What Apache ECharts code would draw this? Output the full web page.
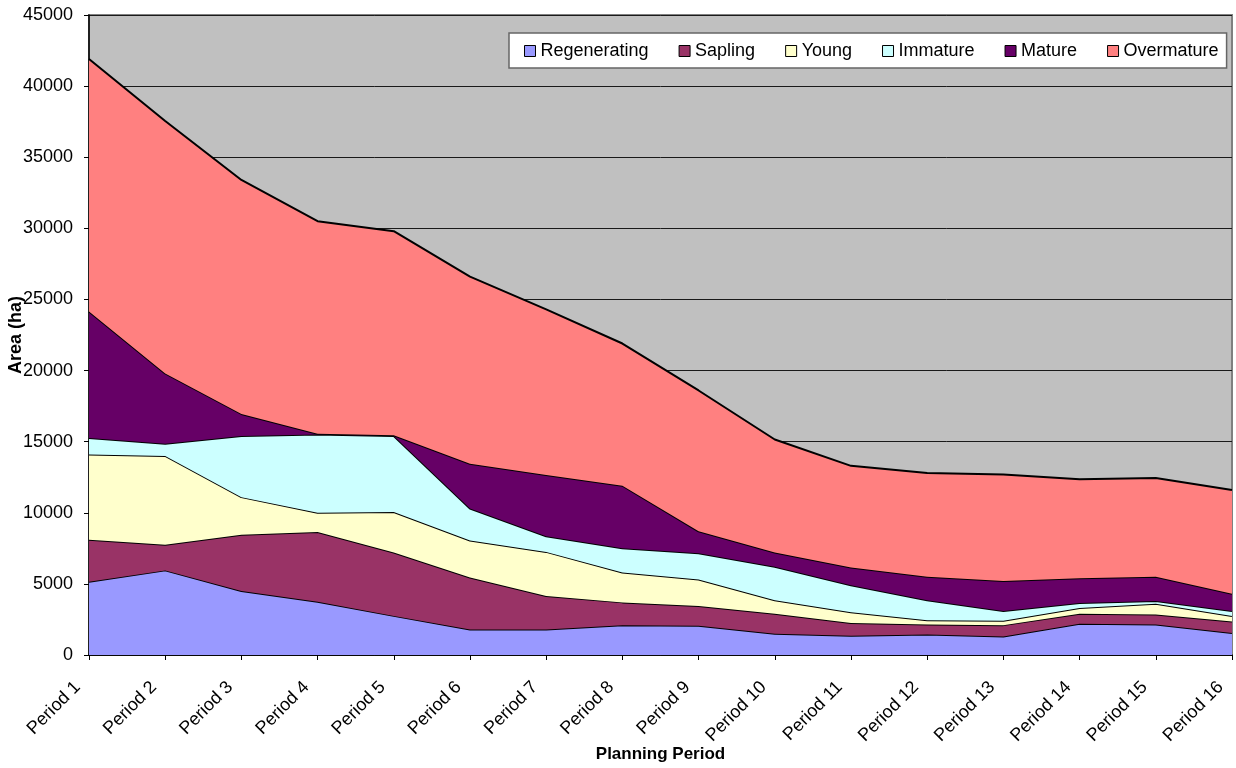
<!DOCTYPE html>
<html>
<head>
<meta charset="utf-8">
<script src="https://cdn.jsdelivr.net/npm/echarts@6/dist/echarts.min.js"></script>
<style>
html,body{margin:0;padding:0;background:#fff;}
#chart{width:1236px;height:768px;}
</style>
</head>
<body>
<div id="chart"></div>
<script>
const categories = ['Period 1','Period 2','Period 3','Period 4','Period 5','Period 6','Period 7','Period 8','Period 9','Period 10','Period 11','Period 12','Period 13','Period 14','Period 15','Period 16'];
const regenerating = [5150, 5950, 4500, 3750, 2750, 1800, 1800, 2100, 2050, 1500, 1350, 1450, 1300, 2200, 2150, 1550];
const sapling      = [2950, 1800, 3950, 4900, 4450, 3650, 2350, 1600, 1400, 1400, 900, 700, 800, 700, 700, 800];
const young        = [6000, 6250, 2650, 1350, 2850, 2600, 3100, 2100, 1850, 950, 750, 300, 300, 400, 750, 400];
const immature     = [1150, 850, 4300, 5500, 5350, 2250, 1100, 1700, 1850, 2350, 1900, 1400, 700, 350, 200, 350];
const mature       = [8900, 4950, 1550, 50, 50, 3150, 4300, 4400, 1550, 1000, 1250, 1650, 2100, 1750, 1700, 1200];
const overmature   = [17750, 17750, 16450, 14950, 14350, 13150, 11650, 10000, 9900, 7950, 7150, 7300, 7500, 6950, 6950, 7300];
const seriesNames  = ['Regenerating','Sapling','Young','Immature','Mature','Overmature'];
const seriesData   = [regenerating, sapling, young, immature, mature, overmature];
const colors       = ['#9999FF','#993366','#FFFFCC','#CCFFFF','#660066','#FF8080'];

const font = 'Liberation Sans, Arial, sans-serif';
const chart = echarts.init(document.getElementById('chart'), null, {renderer:'canvas'});
chart.setOption({
  animation: false,
  backgroundColor: '#ffffff',
  grid: {left: 89, right: 4, top: 15, bottom: 113, containLabel: false, outerBoundsMode: 'none',
         show: true, backgroundColor: '#C0C0C0', borderColor: '#808080', borderWidth: 2},
  legend: {
    left: 509, top: 33,
    orient: 'horizontal',
    backgroundColor: '#ffffff',
    borderColor: '#666666', borderWidth: 1.5,
    padding: [9, 8, 8, 15],
    itemGap: 30, itemWidth: 11, itemHeight: 11,
    icon: 'rect',
    itemStyle: {borderColor: '#000', borderWidth: 1},
    textStyle: {fontFamily: font, fontSize: 18, color: '#000'},
    data: seriesNames
  },
  xAxis: {
    type: 'category',
    data: categories,
    boundaryGap: false,
    name: 'Planning Period',
    nameLocation: 'middle',
    nameGap: 91,
    nameMoveOverlap: false,
    nameTextStyle: {fontFamily: font, fontSize: 17, fontWeight: 'bold', color: '#000'},
    axisLine: {lineStyle: {color: '#000', width: 1.5}},
    axisTick: {show: true, length: 5, alignWithLabel: true, lineStyle: {color: '#000'}},
    axisLabel: {rotate: 45, margin: 18, padding: [0, 16, 0, 0], fontFamily: font, fontSize: 18, color: '#000'},
    splitLine: {show: false}
  },
  yAxis: {
    type: 'value',
    min: 0, max: 45000, interval: 5000,
    name: 'Area (ha)',
    nameLocation: 'middle',
    nameGap: 64,
    nameMoveOverlap: false,
    nameTextStyle: {fontFamily: font, fontSize: 18, fontWeight: 'bold', color: '#000'},
    axisLine: {show: true, lineStyle: {color: '#000', width: 1.5}},
    axisTick: {show: true, length: 5, lineStyle: {color: '#000'}},
    axisLabel: {margin: 16, fontFamily: font, fontSize: 18, color: '#000', formatter: v => String(v)},
    splitLine: {show: true, lineStyle: {color: '#1a1a1a', width: 1}}
  },
  series: seriesNames.map((n, i) => ({
    name: n,
    type: 'line',
    stack: 'total',
    data: seriesData[i],
    symbol: 'none',
    showSymbol: false,
    itemStyle: {color: colors[i]},
    lineStyle: {color: '#000', width: 2},
    areaStyle: {color: colors[i], opacity: 1},
    z: 2 + i
  }))
});
</script>
</body>
</html>
